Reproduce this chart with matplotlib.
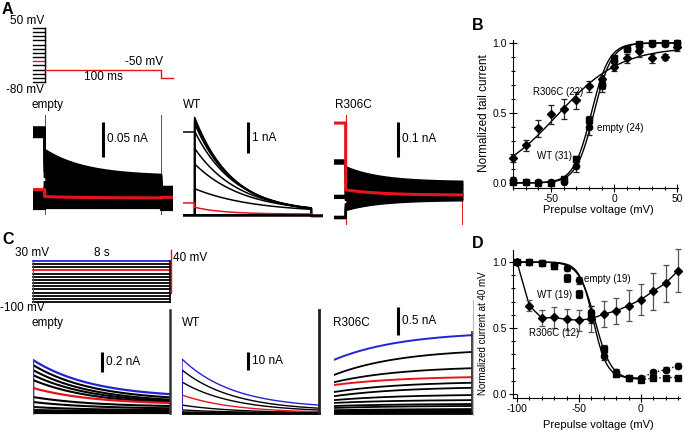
import matplotlib
matplotlib.use("Agg")
import matplotlib.pyplot as plt
from matplotlib.ticker import MultipleLocator, FormatStrFormatter
import numpy as np

plt.rcParams['font.family'] = ['Liberation Sans', 'DejaVu Sans']
plt.rcParams['axes.unicode_minus'] = False

# ---------------- data ----------------
# A: activation protocol (mV, ms)
a_pre_mv = [-80, -70, -60, -50, -40, -30, -20, -10, 0, 10, 20, 30, 40, 50]
a_red_mv = -30
a_tail_mv = -50
a_hold_mv = -80
a_pre_ms = 10
a_tail_ms = 100
a_post_ms = 10

# A traces (nA): prepulse level, tail start, tail steady state, after-tail level
empty_a_pre = [-0.006, -0.003, 0.0, 0.004, 0.01, 0.016, 0.02, 0.097, 0.1, 0.103, 0.106, 0.109, 0.111]
empty_a_start = [-0.004, 0.003, 0.008, 0.014, 0.02, 0.026, 0.033, 0.04, 0.048, 0.055, 0.062, 0.07, 0.079]
empty_a_ss = [-0.004, 0.0, 0.004, 0.008, 0.012, 0.016, 0.02, 0.024, 0.028, 0.031, 0.034, 0.038, 0.041]
empty_a_post = [-0.007, -0.004, -0.001, 0.002, 0.005, 0.008, 0.011, 0.014, 0.017, 0.02, 0.022, 0.024, 0.026]
empty_a_red = [0.022, 0.012, 0.010, 0.011]  # pre, start, ss, post
empty_a_tau = 35

wt_a_pre = [0, 0, 0, 0, 0, 0, 0, 0, 0, 0, 0, 0, 2.68]
wt_a_start = [0, 0, 0, 0, 0, 0.85, 1.65, 2.15, 2.7, 2.95, 3.05, 3.1, 3.15]
wt_a_ss = [0, 0, 0, 0, 0, 0.08, 0.08, 0.08, 0.08, 0.08, 0.08, 0.08, 0.08]
wt_a_tau = [30, 30, 30, 30, 30, 50, 42, 38, 35, 33, 32, 32, 32]
wt_a_post = [-0.04] * 13
wt_a_red = [0.39, 0.25, 0.03, -0.04]
wt_a_red_tau = 25

r306c_a_pre = [-0.052, -0.05, -0.048, 0.006, 0.008, 0.01, 0.012, 0.104, 0.107, 0.109, 0.111, 0.112, 0.113]
r306c_a_start = [-0.029, -0.022, -0.012, 0.0, 0.012, 0.025, 0.035, 0.045, 0.056, 0.068, 0.08, 0.088, 0.094]
r306c_a_ss = [0.0, 0.004, 0.008, 0.012, 0.016, 0.02, 0.026, 0.03, 0.034, 0.038, 0.042, 0.046, 0.051]
r306c_a_red = [0.22, 0.029, 0.014]
r306c_a_tau = 30

# A scale bars (nA)
a_bars = [0.05, 1, 0.1]
a_bar_labels = ["0.05 nA", "1 nA", "0.1 nA"]

# B: normalized tail current
b_mv = [-80, -70, -60, -50, -40, -30, -20, -10, 0, 10, 20, 30, 40, 50]
b_wt = [0.01, 0.01, 0.0, 0.0, 0.03, 0.17, 0.45, 0.70, 0.89, 0.96, 0.995, 1.0, 1.0, 1.0]
b_wt_err = [0.01, 0.01, 0.01, 0.01, 0.01, 0.02, 0.03, 0.03, 0.02, 0.01, 0.01, 0.01, 0.01, 0.01]
b_empty = [0.02, 0.01, 0.005, 0.005, 0.01, 0.12, 0.40, 0.70, 0.87, 0.96, 0.98, 0.99, 0.99, 1.0]
b_empty_err = [0.02, 0.01, 0.01, 0.01, 0.01, 0.04, 0.06, 0.05, 0.03, 0.02, 0.02, 0.01, 0.01, 0.01]
b_r306c = [0.18, 0.27, 0.39, 0.49, 0.53, 0.59, 0.69, 0.74, 0.83, 0.89, 0.94, 0.89, 0.90, 0.97]
b_r306c_err = [0.03, 0.04, 0.06, 0.07, 0.07, 0.06, 0.04, 0.03, 0.03, 0.03, 0.04, 0.03, 0.02, 0.03]
# Boltzmann fits: (V1/2, slope, max)
b_fit_wt = (-18, 7, 1.0)
b_fit_empty = (-16, 7, 1.0)
b_fit_r306c = (-45, 25, 0.97)

# C: inactivation protocol (mV, s)
c_pre_mv = [-100, -90, -80, -70, -60, -50, -40, -30, -20, -10, 0, 10, 20, 30]
c_red_mv = 0
c_blue_mv = 30
c_test_mv = 40
c_pre_s = 8

# C traces (nA): start, steady state
empty_c_start = [0.0, 0.0, 0.01, 0.02, 0.03, 0.06, 0.11, 0.16, 0.33, 0.38, 0.43, 0.48]
empty_c_ss = [0.0, 0.0, 0.005, 0.01, 0.015, 0.025, 0.04, 0.06, 0.08, 0.09, 0.1, 0.12]
empty_c_red = [0.25, 0.083]
empty_c_blue = [0.53, 0.15]
empty_c_tau = 3.5

wt_c_start = [0.0, 0.0, 0.0, 0.0, 0.0, 0.0, 0.2, 0.6, 1.7, 4.4, 17.2, 23.9]
wt_c_ss = [0, 0, 0, 0, 0, 0, 0, 0, 0, 0, 0.5, 1.1]
wt_c_red = [10.0, 0.0]
wt_c_blue = [30.0, 2.5]
wt_c_tau = 3.0

# R306C: start and end of slowly rising currents
r306c_c_start = [0.0, 0.0, 0.02, 0.035, 0.05, 0.09, 0.125, 0.18, 0.23, 0.30, 0.375, 0.55, 0.68]
r306c_c_end = [0.0, 0.0, 0.03, 0.05, 0.07, 0.125, 0.16, 0.23, 0.32, 0.45, 0.54, 0.80, 1.09]
r306c_c_red = [0.5, 0.64]
r306c_c_blue = [0.95, 1.39]
r306c_c_tau = 4.0

c_spike = [1.03, 57, 1.45]  # clipped current at the 40 mV step
c_bars = [0.2, 10, 0.5]
c_bar_labels = ["0.2 nA", "10 nA", "0.5 nA"]

# D: normalized current at 40 mV
d_mv = [-100, -90, -80, -70, -60, -50, -40, -30, -20, -10, 0, 10, 20, 30]
d_empty = [1.0, 1.0, 0.99, 0.98, 0.955, 0.86, 0.62, 0.285, 0.17, 0.12, 0.12, 0.165, 0.185, 0.215]
d_empty_err = [0.01, 0.01, 0.01, 0.01, 0.02, 0.03, 0.05, 0.03, 0.02, 0.02, 0.02, 0.02, 0.02, 0.02]
d_wt = [1.0, 1.0, 0.99, 0.97, 0.88, 0.76, 0.59, 0.34, 0.15, 0.12, 0.11, 0.12, 0.125, 0.125]
d_wt_err = [0.01, 0.01, 0.01, 0.02, 0.03, 0.03, 0.05, 0.03, 0.02, 0.01, 0.01, 0.01, 0.01, 0.01]
d_r306c = [1.0, 0.67, 0.575, 0.58, 0.565, 0.56, 0.57, 0.606, 0.63, 0.67, 0.715, 0.78, 0.84, 0.935]
d_r306c_err = [0.01, 0.04, 0.06, 0.08, 0.08, 0.08, 0.1, 0.1, 0.1, 0.12, 0.12, 0.14, 0.14, 0.16]
# inactivation fits: (V1/2, slope, bottom)
d_fit_empty = (-38.5, 5.5, 0.12)
d_fit_wt = (-37, 6.5, 0.11)

RED = '#e8141b'
BLUE = '#2323d6'
FS = 8.5

# ---------------- figure ----------------
W, H = 685, 432
fig = plt.figure(figsize=(W / 100, H / 100), dpi=100)


def px_axes(x0, y0, x1, y1, xlim, ylim, off=True):
    ax = fig.add_axes([x0 / W, 1 - y1 / H, (x1 - x0) / W, (y1 - y0) / H])
    ax.set_xlim(*xlim)
    ax.set_ylim(*ylim)
    ax.patch.set_alpha(0)
    if off:
        ax.set_axis_off()
    return ax


def label(x, y, s, **kw):
    kw.setdefault('va', 'center')
    kw.setdefault('fontsize', FS)
    fig.text(x / W, 1 - y / H, s, **kw)


def scalebar(ax, t, y0, length, text):
    ax.plot([t, t], [y0, y0 + length], color='k', lw=2.2, solid_capstyle='butt')
    ax.annotate(text, (t, y0 + length / 2), xytext=(3, 0), textcoords='offset points',
                va='center', ha='left', fontsize=FS)


# panel letters
for s, x, y in [("A", 2, 9), ("B", 472, 25), ("C", 2, 240), ("D", 472, 243)]:
    label(x, y, s, fontsize=11.5, fontweight='bold', ha='left')

# ---- A protocol ----
ax = px_axes(33, 28, 173, 82, (-a_pre_ms, a_tail_ms + a_post_ms), (a_hold_mv, max(a_pre_mv)))
for v in a_pre_mv:
    ax.plot([-a_pre_ms, 0], [v, v], color=RED if v == a_red_mv else 'k', lw=1, clip_on=False)
ax.plot([0, 0], [min(a_pre_mv), max(a_pre_mv)], color='k', lw=1, clip_on=False)
ax.plot([0, a_tail_ms, a_tail_ms, a_tail_ms + a_post_ms],
        [a_tail_mv, a_tail_mv, a_hold_mv + 10, a_hold_mv + 10], color=RED, lw=1, clip_on=False)
label(44, 21, "50 mV", ha='right')
label(44, 90, "-80 mV", ha='right')
label(163, 62, "-50 mV", ha='right')
label(103, 77, "100 ms", ha='center')

# ---- A traces ----
t_a = np.linspace(0, a_tail_ms, 400)


def a_trace(ax, pre, i0, iss, tau, post, color, lw):
    tail = iss + (i0 - iss) * np.exp(-t_a / tau)
    t = np.concatenate([[-a_pre_ms, 0], t_a])
    y = np.concatenate([[pre, pre], tail])
    if post is not None:
        t = np.concatenate([t, [a_tail_ms, a_tail_ms + a_post_ms]])
        y = np.concatenate([y, [post, post]])
    ax.plot(t, y, color=color, lw=lw)
    return tail


# empty
ax = px_axes(33, 115, 173, 215, (-a_pre_ms, a_tail_ms + a_post_ms), (-0.0143, 0.1286))
ax.axvline(0, color='#555555', lw=0.7)
ax.axvline(a_tail_ms, color=RED, lw=0.7)
tails = [a_trace(ax, p, s, e, empty_a_tau, q, 'k', 1.6)
         for p, s, e, q in zip(empty_a_pre, empty_a_start, empty_a_ss, empty_a_post)]
ax.fill_between(t_a, np.min(tails, axis=0), np.max(tails, axis=0), color='k', lw=0)
ax.fill_between([a_tail_ms, a_tail_ms + a_post_ms], min(empty_a_post), max(empty_a_post), color='k', lw=0)
ax.fill_between([-a_pre_ms, 0], min(empty_a_pre), 0.02, color='k', lw=0)
ax.fill_between([-a_pre_ms, 0], 0.097, max(empty_a_pre), color='k', lw=0)
r = empty_a_red
a_trace(ax, r[0], r[1], r[2], empty_a_tau, r[3], RED, 2.2)
scalebar(ax, 50, 0.0686, a_bars[0], a_bar_labels[0])
label(32, 105, "empty", ha='left')

# WT
ax = px_axes(183, 110, 323, 220, (-a_pre_ms, a_tail_ms + a_post_ms), (-0.16, 3.39))
for p, s, e, tau, q in zip(wt_a_pre, wt_a_start, wt_a_ss, wt_a_tau, wt_a_post):
    a_trace(ax, p, s, e, tau, q, 'k', 1.1)
r = wt_a_red
a_trace(ax, r[0], r[1], r[2], wt_a_red_tau, r[3], RED, 1.1)
ax.plot([-a_pre_ms, a_tail_ms + a_post_ms], [0, 0], color='k', lw=1.8)
scalebar(ax, 45.7, 2.0, a_bars[1], a_bar_labels[1])
label(183, 105, "WT", ha='left')

# R306C
ax = px_axes(334, 115, 474, 225, (-a_pre_ms, a_tail_ms + a_post_ms), (-0.0714, 0.243))
ax.axvline(0, color=RED, lw=0.8)
ax.plot([a_tail_ms, a_tail_ms], [-0.07, 0.05], color=RED, lw=0.7)
tails = [a_trace(ax, p, s, e, r306c_a_tau, None, 'k', 1.6)
         for p, s, e in zip(r306c_a_pre, r306c_a_start, r306c_a_ss)]
ax.fill_between(t_a, np.min(tails, axis=0), np.max(tails, axis=0), color='k', lw=0)
r = r306c_a_red
a_trace(ax, r[0], r[1], r[2], r306c_a_tau, None, RED, 2.2)
scalebar(ax, 44.9, 0.123, a_bars[2], a_bar_labels[2])
label(335, 105, "R306C", ha='left')

# ---- C protocol ----
ax = px_axes(33, 248, 176, 305, (0, 8.36), (-109.5, 71.3))
for v in c_pre_mv:
    col = BLUE if v == c_blue_mv else (RED if v == c_red_mv else 'k')
    ax.plot([0, c_pre_s], [v, v], color=col, lw=1.3, clip_on=False)
ax.plot([0, 0], [min(c_pre_mv), max(c_pre_mv)], color=RED, lw=0.8)
ax.plot([c_pre_s, c_pre_s], [min(c_pre_mv), max(c_pre_mv)], color='k', lw=1.2)
ax.plot([c_pre_s + 0.06, c_pre_s + 0.06], [-71, c_test_mv + 25], color=RED, lw=1)
label(32, 253, "30 mV", ha='center')
label(102, 253, "8 s", ha='center')
label(173, 258, "40 mV", ha='left')
label(0, 308, "-100 mV", ha='left')

# ---- C traces ----
t_c = np.linspace(0, c_pre_s, 400)


def c_decay(ax, i0, iss, tau, color, lw):
    y = iss + (i0 - iss) * np.exp(-t_c / tau)
    ax.plot(np.concatenate([[0], t_c]), np.concatenate([[0], y]), color=color, lw=lw)


# empty
ax = px_axes(33, 300, 173, 416, (0, 8.2), (-0.03, 1.13))
for s, e in zip(empty_c_start, empty_c_ss):
    c_decay(ax, s, e, empty_c_tau, 'k', 1.5)
c_decay(ax, empty_c_red[0], empty_c_red[1], empty_c_tau, RED, 1.6)
c_decay(ax, empty_c_blue[0], empty_c_blue[1], empty_c_tau, BLUE, 1.6)
ax.plot([0, 0], [0, empty_c_blue[0]], color=RED, lw=0.6, alpha=0.6)
ax.plot([c_pre_s + 0.05] * 2, [0, c_spike[0]], color='#333333', lw=1.8)
scalebar(ax, 4.04, 0.41, c_bars[0], c_bar_labels[0])
label(32, 323, "empty", ha='left')

# WT
ax = px_axes(182, 300, 322, 416, (0, 8.2), (-1.67, 62.8))
for s, e in zip(wt_c_start, wt_c_ss):
    c_decay(ax, s, e, wt_c_tau, 'k', 1.0)
c_decay(ax, wt_c_red[0], wt_c_red[1], wt_c_tau, RED, 1.0)
c_decay(ax, wt_c_blue[0], wt_c_blue[1], wt_c_tau, BLUE, 1.0)
ax.plot([0, c_pre_s], [0, 0], color='k', lw=1.8)
ax.plot([c_pre_s + 0.05] * 2, [0, c_spike[1]], color='#222222', lw=2)
scalebar(ax, 3.87, 23.9, c_bars[1], c_bar_labels[1])
label(182, 323, "WT", ha='left')

# R306C
ax = px_axes(334, 300, 476, 416, (0, 8.3), (-0.054, 2.02))
k = (1 - np.exp(-t_c / r306c_c_tau)) / (1 - np.exp(-c_pre_s / r306c_c_tau))
for s, e in zip(r306c_c_start, r306c_c_end):
    ax.plot(t_c, s + (e - s) * k, color='k', lw=1.3)
ax.plot(t_c, r306c_c_red[0] + (r306c_c_red[1] - r306c_c_red[0]) * k, color=RED, lw=1.4)
ax.plot(t_c, r306c_c_blue[0] + (r306c_c_blue[1] - r306c_c_blue[0]) * k, color=BLUE, lw=1.4)
ax.plot([0, c_pre_s], [0, 0], color='k', lw=2)
ax.plot([c_pre_s + 0.05] * 2, [0, c_spike[2]], color='#222222', lw=1.2)
ax.axvline(c_pre_s + 0.1, color='#f4a0a0', lw=0.8)
scalebar(ax, 3.74, 1.39, c_bars[2], c_bar_labels[2])
label(333, 323, "R306C", ha='left')


# ---- B and D plots ----
def style_axes(ax, xmajor):
    for s in ('top', 'right'):
        ax.spines[s].set_visible(False)
    for s in ('left', 'bottom'):
        ax.spines[s].set_linewidth(0.8)
    ax.set_xticks(xmajor)
    ax.set_yticks([0, 0.5, 1.0])
    ax.xaxis.set_minor_locator(MultipleLocator(10))
    ax.yaxis.set_minor_locator(MultipleLocator(0.1))
    ax.yaxis.set_major_formatter(FormatStrFormatter('%.1f'))
    ax.tick_params(which='major', direction='inout', length=6, width=0.8, labelsize=7.5, pad=1.5)
    ax.tick_params(which='minor', direction='inout', length=3.5, width=0.8)


def points(ax, x, y, err, marker, ms, ecolor='#222222'):
    ax.errorbar(x, y, yerr=err, fmt='none', ecolor=ecolor, elinewidth=0.9, capsize=2,
                capthick=0.9, clip_on=False, zorder=3)
    ax.plot(x, y, marker, color='k', ms=ms, ls='none', clip_on=False, zorder=4)


axB = px_axes(513, 40, 678, 188, (-80, 50.5), (-0.036, 1.021), off=False)
style_axes(axB, [-50, 0, 50])
v = np.linspace(-80, 50, 300)
for vh, kk, top in (b_fit_wt, b_fit_empty, b_fit_r306c):
    axB.plot(v, top / (1 + np.exp((vh - v) / kk)), color='k', lw=1, zorder=2)
points(axB, b_mv, b_r306c, b_r306c_err, 'D', 4.5)
points(axB, b_mv, b_empty, b_empty_err, 'o', 4.5)
points(axB, b_mv, b_wt, b_wt_err, 's', 4.5)
label(533, 92, "R306C (22)", ha='left', fontsize=7)
label(537, 156, "WT (31)", ha='left', fontsize=7)
label(597, 128, "empty (24)", ha='left', fontsize=7)
label(598, 210, "Prepulse voltage (mV)", ha='center', fontsize=8)
label(484, 113, "Normalized tail current", ha='center', rotation=90, fontsize=8.5)

axD = px_axes(513, 250, 680, 398, (-103.2, 31.5), (-0.03, 1.091), off=False)
style_axes(axD, [-100, -50, 0])
v = np.linspace(-100, 0, 300)
for vh, kk, bottom in (d_fit_empty, d_fit_wt):
    axD.plot(v, bottom + (1 - bottom) / (1 + np.exp((v - vh) / kk)), color='k', lw=1, zorder=2)
axD.plot(d_mv[10:], d_empty[10:], color='k', lw=1, ls=':', zorder=2)
axD.plot(d_mv[10:], d_wt[10:], color='k', lw=1, ls=':', zorder=2)
axD.plot(d_mv, d_r306c, color='k', lw=1, zorder=2)
points(axD, d_mv, d_r306c, d_r306c_err, 'D', 4.5, ecolor='#555555')
points(axD, d_mv, d_empty, d_empty_err, 'o', 4.5)
points(axD, d_mv, d_wt, d_wt_err, 's', 4.5)
label(584, 279, "empty (19)", ha='left', fontsize=7)
label(537, 295, "WT (19)", ha='left', fontsize=7)
label(529, 333, "R306C (12)", ha='left', fontsize=7)
label(598, 425, "Prepulse voltage (mV)", ha='center', fontsize=8)
label(483, 333, "Normalized current at 40 mV", ha='center', rotation=90, fontsize=7)

fig.savefig("out.png", dpi=100)
